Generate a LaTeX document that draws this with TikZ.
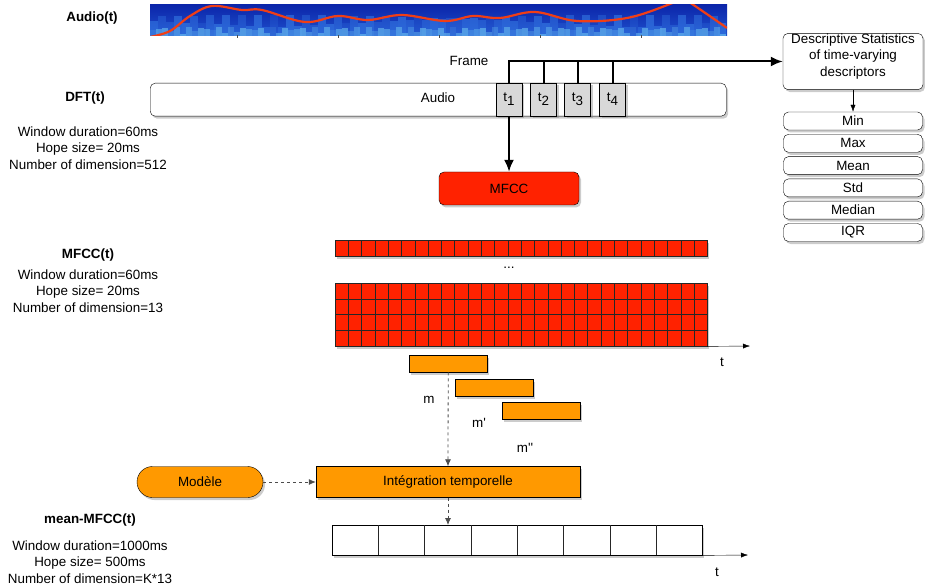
\documentclass[tikz,border=0pt]{standalone}
\usepackage{fontspec}
\setmainfont{Liberation Sans}[Ligatures=TeXOff]
\usetikzlibrary{arrows.meta,shadows,calc}

\definecolor{mfccRed}{RGB}{255,34,0}
\definecolor{intOrange}{RGB}{255,153,0}
\definecolor{frameGray}{RGB}{216,216,216}
\definecolor{specDark}{RGB}{12,38,170}
\definecolor{specMid}{RGB}{30,80,205}
\definecolor{specBand}{RGB}{55,125,230}
\definecolor{specLight}{RGB}{110,195,240}
\definecolor{specCurve}{RGB}{240,62,22}

% vertical separators of a row of cells
\newcommand{\colLines}[2]{%
  \pgfmathtruncatemacro{\lastCol}{#2-1}%
  \foreach \c in {1,...,\lastCol}
    \draw[cellLine] ($(#1.north west)!{\c/#2}!(#1.north east)$)
      -- ($(#1.south west)!{\c/#2}!(#1.south east)$);
}
% horizontal separators of a block of cells
\newcommand{\rowLines}[2]{%
  \pgfmathtruncatemacro{\lastRow}{#2-1}%
  \foreach \r in {1,...,\lastRow}
    \draw[cellLine] ($(#1.north west)!{\r/#2}!(#1.south west)$)
      -- ($(#1.north east)!{\r/#2}!(#1.south east)$);
}

\begin{document}
\begin{tikzpicture}[%
  x=1pt,y=-1pt,%
  every node/.style={font=\fontsize{13.4}{16.5}\selectfont},%
  headLabel/.style={font=\fontsize{13.4}{16.5}\selectfont\bfseries},%
  infoText/.style={align=center},%
  boxShadow/.style={drop shadow={shadow xshift=2pt,shadow yshift=-2.5pt,opacity=.4}},%
  roundBox/.style={draw,rounded corners=5pt,fill=white,inner sep=0pt,boxShadow},%
  statBox/.style={roundBox,minimum width=139pt,minimum height=18pt},%
  frameBox/.style={draw,fill=frameGray,minimum width=26pt,minimum height=33pt,inner sep=0pt,boxShadow},%
  cellRow/.style={draw=black!85,fill=mfccRed,inner sep=0pt,anchor=north west,boxShadow},%
  cellLine/.style={draw=black!85,line width=0.6pt},%
  winBox/.style={draw,fill=intOrange,minimum width=78pt,minimum height=17pt,inner sep=0pt,anchor=north west,boxShadow},%
  thickArrow/.style={line width=2pt,-{Latex[length=12pt,width=10pt]}},%
  thinArrow/.style={-{Latex[length=7pt,width=5pt]}},%
  dashArrow/.style={dashed,line width=0.8pt,draw=black!70,-{Latex[length=7pt,width=6pt]}}%
]
\useasboundingbox (0,0) rectangle (925,585);
%
% Spectrogram strip with its pitch curve
\node[headLabel] (audioLabel) at (92,18) {Audio(t)};
\begin{scope}
  \clip (150,5) rectangle (727,36);
  \shade[top color=specDark,bottom color=specMid] (150,5) rectangle (727,36);
  \foreach \x in {150,158,...,722} {
    \pgfmathsetmacro{\h}{9+12*abs(sin(\x*11))}
    \pgfmathsetmacro{\o}{0.2+0.4*abs(cos(\x*5))}
    \fill[specBand,opacity=\o] (\x,36) rectangle ++(8,-\h);
  }
  \foreach \x in {150,156,...,722} {
    \pgfmathsetmacro{\h}{2+7*abs(sin(\x*17))}
    \pgfmathsetmacro{\o}{0.15+0.45*abs(cos(\x*9))}
    \fill[specLight,opacity=\o] (\x,36) rectangle ++(6,-\h);
  }
  \draw[specCurve,line width=2.2pt] plot[smooth,tension=0.6] coordinates {
    (150,37) (170,31) (190,16) (212,6) (242,10) (262,10) (305,22)
    (338,16) (368,20) (402,15) (445,21) (473,16) (500,18) (535,12)
    (577,21) (627,18) (670,4) (681,-2) (692,4) (727,28)};
\end{scope}
\foreach \x in {237,338,439,540,641}
  \draw[black!70] (\x,35) -- (\x,38);
%
% DFT of the audio and its frames
\node[headLabel] (dftLabel) at (85,98) {DFT(t)};
\node[infoText] (dftInfo) at (88,148) {Window duration=60ms\\Hope size= 20ms\\Number of dimension=512};
\node[roundBox,minimum width=576pt,minimum height=33pt,anchor=north west] (dft) at (150,83) {};
\node (audioText) at (438,98) {Audio};
\node[frameBox] (t1) at (509,99.5) {t\raisebox{-4pt}{1}};
\node[frameBox] (t2) at (543.5,99.5) {t\raisebox{-4pt}{2}};
\node[frameBox] (t3) at (577.5,99.5) {t\raisebox{-4pt}{3}};
\node[frameBox] (t4) at (612.5,99.5) {t\raisebox{-4pt}{4}};
\node (frameText) at (469,61) {Frame};
%
% Statistics over the frames
\node[roundBox,minimum width=140pt,minimum height=47pt,align=center] (desc) at (853,61.5)
  {Descriptive Statistics\\of time-varying\\descriptors\\[-3pt]};
\foreach \name [count=\i] in {Min,Max,Mean,Std,Median,IQR}
  \node[statBox] (stat\i) at (853,{121+(\i-1)*22.3}) {\name};
\draw[thinArrow] (desc.south) -- (stat1.north);
\draw[thickArrow] (t1.north) |- (desc.west);
\foreach \t in {t2,t3,t4}
  \draw[line width=2pt] (\t.north) -- (\t.north |- desc.west);
%
% MFCC extraction
\node[roundBox,fill=mfccRed,minimum width=140pt,minimum height=33pt] (mfcc) at (509,188.5) {MFCC};
\draw[thickArrow] (t1.south) -- (mfcc.north);
%
\node[headLabel] (mfccLabel) at (88,255) {MFCC(t)};
\node[infoText] (mfccInfo) at (88,291) {Window duration=60ms\\Hope size= 20ms\\Number of dimension=13};
\node[cellRow,minimum width=372pt,minimum height=16pt] (mfccRow) at (335,240) {};
\colLines{mfccRow}{28}
\node (dots) at (509,268) {...};
\node[cellRow,minimum width=372pt,minimum height=63pt] (mfccBlock) at (335,283) {};
\colLines{mfccBlock}{28}
\rowLines{mfccBlock}{4}
\coordinate (mfccAxisEnd) at (750,346);
\draw[thinArrow] (mfccBlock.south east) -- (mfccAxisEnd);
\node (mfccAxisLabel) at (722,362) {t};
%
% Integration windows
\node[winBox] (win1) at (409,355) {};
\node[winBox] (win2) at (455,379) {};
\node[winBox] (win3) at (502,402) {};
\node (m1) at (429,400) {m};
\node (m2) at (479,423) {m'};
\node (m3) at (525,448) {m''};
%
\node[draw,fill=intOrange,minimum width=264pt,minimum height=31pt,boxShadow] (integ) at (448,482) {Intégration temporelle};
\node[draw,fill=intOrange,rounded corners=15.5pt,minimum width=126pt,minimum height=31pt,boxShadow] (model) at (200,482) {Modèle};
\draw[dashArrow] (win1.south) -- (integ.north);
\draw[dashArrow] (model) -- (integ);
%
% Temporal integration output
\node[headLabel] (meanLabel) at (90,520) {mean-MFCC(t)};
\node[infoText] (meanInfo) at (90,562) {Window duration=1000ms\\Hope size= 500ms\\Number of dimension=K*13};
\node[draw,fill=white,minimum width=370pt,minimum height=30pt,inner sep=0pt,anchor=north west,boxShadow] (meanRow) at (332,525) {};
\colLines{meanRow}{8}
\draw[dashArrow] (integ.south) -- (integ.south |- meanRow.north);
\coordinate (meanAxisEnd) at (748,555);
\draw[thinArrow] (meanRow.south east) -- (meanAxisEnd);
\node (meanAxisLabel) at (717,572) {t};
\end{tikzpicture}
\end{document}
